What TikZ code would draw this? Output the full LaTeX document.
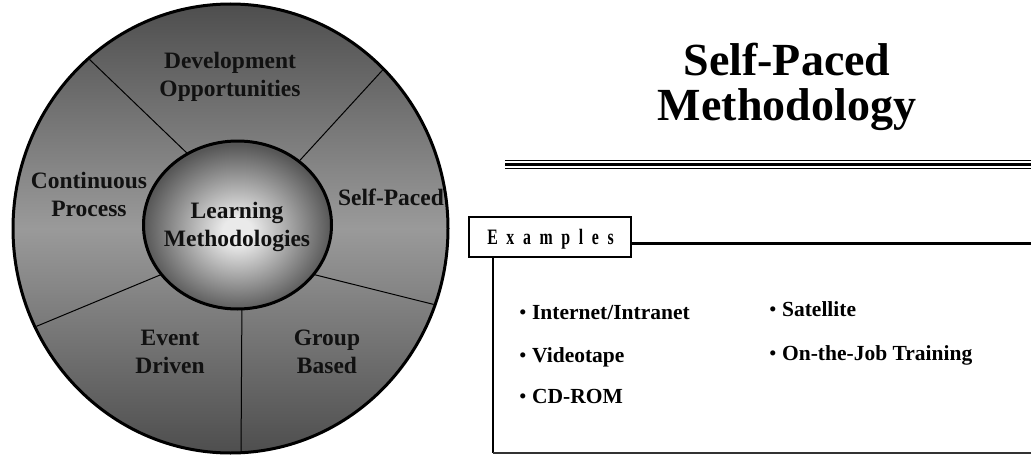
\documentclass[tikz,border=0pt]{standalone}
\usepackage{fontspec}
\usepackage{graphicx}
\setmainfont{Liberation Serif}
\usetikzlibrary{shapes.geometric}

\definecolor{wheeldark}{HTML}{4E4E4E}
\definecolor{wheellight}{HTML}{9A9A9A}
\definecolor{hubin}{HTML}{EAEAEA}
\definecolor{hubout}{HTML}{575757}
\definecolor{ink}{HTML}{111111}

% soft glow for the central hub
\pgfdeclareradialshading{hubglow}{\pgfpoint{0bp}{-2bp}}{%
  color(0bp)=(hubin); color(4bp)=(hubin); color(25bp)=(hubout); color(50bp)=(hubout)}

\tikzset{
  seglabel/.style={font=\fontsize{23.5}{28}\selectfont\bfseries, align=center,
    text=ink, inner sep=0pt},
  titleline/.style={font=\fontsize{46}{46}\selectfont\bfseries, text=black,
    inner sep=0pt, anchor=base},
  itemline/.style={font=\fontsize{21.5}{24}\selectfont\bfseries, text=black,
    inner sep=0pt, anchor=base west},
  divider/.style={draw=black, line width=1pt},
}

\newcommand{\blt}{{\mdseries •}\ }
\newcommand{\gapE}{\hspace{12pt}}

\begin{document}
\begin{tikzpicture}[x=1pt,y=-1pt]
\useasboundingbox[fill=white] (0,0) rectangle (1031,455);

% ---- outer wheel ----
\node[ellipse, minimum width=435pt, minimum height=449pt, inner sep=0pt,
  draw=black, line width=3pt, top color=wheeldark, bottom color=wheeldark,
  middle color=wheellight] (wheel) at (230.5,228.5) {};

% hub geometry (used for the dividers before the hub is painted)
\node[ellipse, minimum width=188pt, minimum height=168pt, inner sep=0pt]
  (hubshape) at (237.5,225) {};

\coordinate (o1) at (88,58);
\coordinate (o2) at (390,62);
\coordinate (o3) at (452,309);
\coordinate (o4) at (241,460);
\coordinate (o5) at (30,329);

\begin{scope}
  \clip (230.5,228.5) ellipse [x radius=216, y radius=223];
  \draw[divider] (hubshape.125) -- (o1);
  \draw[divider] (hubshape.46.6) -- (o2);
  \draw[divider] (hubshape.-33.5) -- (o3);
  \draw[divider] (hubshape.-87.6) -- (o4);
  \draw[divider] (hubshape.213) -- (o5);
\end{scope}

% ---- central hub ----
\node[ellipse, minimum width=188pt, minimum height=168pt, inner sep=0pt,
  draw=black, line width=3pt, shading=hubglow] (hub) at (237.5,225) {};

% ---- segment labels ----
\node[seglabel] (dev)   at (230,77)  {Development\\Opportunities};
\node[seglabel] (cont)  at (89,194)  {Continuous\\Process};
\node[seglabel] (self)  at (391,197) {Self-Paced};
\node[seglabel] (learn) at (237,227) {Learning\\Methodologies};
\node[seglabel] (event) at (170,352) {Event\\Driven};
\node[seglabel] (group) at (327,352) {Group\\Based};

% ---- title ----
\node[titleline] (t1) at (787,75)  {Self-Paced};
\node[titleline] (t2) at (787,120) {Methodology};

% triple rule under the title
\draw[line width=1.3pt] (505,160.3) -- (1031,160.3);
\draw[line width=3pt]   (505,164.3) -- (1031,164.3);
\draw[line width=1.3pt] (505,168.2) -- (1031,168.2);

% ---- examples panel ----
\coordinate (pTR) at (1031,243.5);
\coordinate (pBL) at (493,453);
\coordinate (pBR) at (1031,453);
\draw[line width=2.7pt] (631,243.5) -- (pTR);
\draw[line width=2.5pt] (493,257) -- (pBL);
\draw[line width=1.4pt, draw=black!80] (pBL) -- (pBR);

\node[draw=black, line width=1.3pt, fill=white, minimum width=162pt,
  minimum height=40pt, inner sep=0pt] (exbox) at (550,237) {};
\node[inner sep=0pt, font=\fontsize{22}{24}\selectfont\bfseries] (extext) at (550.5,239)
  {\scalebox{0.72}[1]{E\gapE x\gapE a\gapE m\gapE p\gapE l\gapE e\gapE s}};

\node[itemline] (i1) at (519,319) {\blt Internet/Intranet};
\node[itemline] (i2) at (519,362.5) {\blt Videotape};
\node[itemline] (i3) at (519,403) {\blt CD-ROM};
\node[itemline] (i4) at (769,316.5) {\blt Satellite};
\node[itemline] (i5) at (769,360.5) {\blt On-the-Job Training};
\end{tikzpicture}
\end{document}
